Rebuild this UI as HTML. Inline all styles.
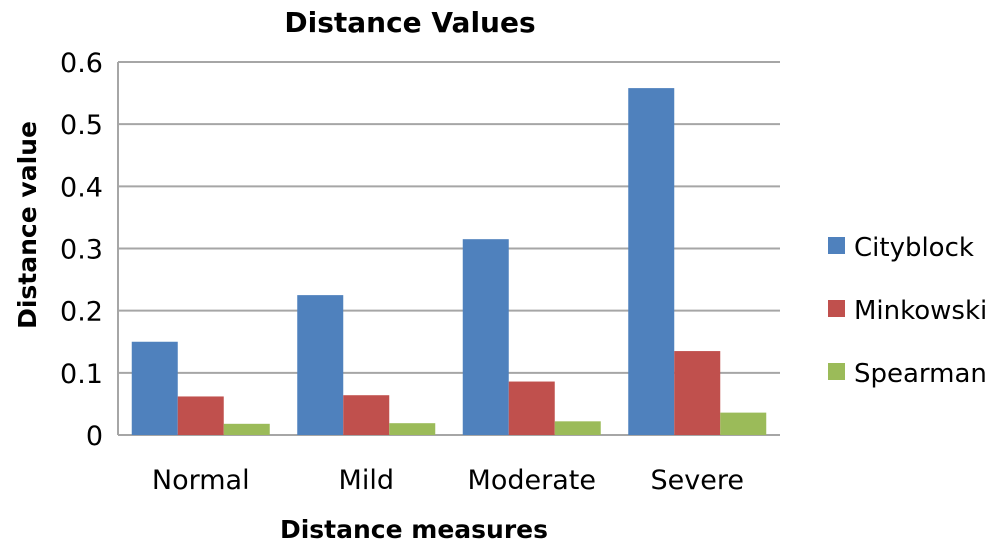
<!DOCTYPE html>
<html><head><meta charset="utf-8"><style>
body{margin:0;background:#fff;}
svg{display:block;font-family:"DejaVu Sans","Liberation Sans",sans-serif;}
</style></head><body>
<svg id="chart" width="1000" height="550"></svg>
<script>
const categories=["Normal","Mild","Moderate","Severe"];
const seriesNames=["Cityblock","Minkowski","Spearman"];
const cityblock=[0.15,0.225,0.315,0.558];
const minkowski=[0.062,0.064,0.086,0.135];
const spearman=[0.018,0.019,0.022,0.036];
const yTicks=[0,0.1,0.2,0.3,0.4,0.5,0.6];
const yTickLabels=["0","0.1","0.2","0.3","0.4","0.5","0.6"];
const colors=["#4f81bd","#c0504d","#9bbb59"];
const NS="http://www.w3.org/2000/svg";
const svg=document.getElementById('chart');
const x0=118,x1=780,y0=435,yTop=62;
const yScale=v=>y0-(v/0.6)*(y0-yTop);
const gw=(x1-x0)/categories.length;
function el(t,a,txt){const e=document.createElementNS(NS,t);for(const k in a)e.setAttribute(k,a[k]);if(txt!=null)e.textContent=txt;svg.appendChild(e);return e;}
yTicks.forEach((v,i)=>{
 const g=el('line',{x1:x0,x2:x1,y1:yScale(v),y2:yScale(v),stroke:'#a6a6a6','stroke-width':2});
 
 
 const t=el('text',{x:x0-15,y:yScale(v)+10,'text-anchor':'end','font-size':27,fill:'#000'},yTickLabels[i]);
 
 
});
const ax=el('line',{x1:x0,x2:x0,y1:yTop,y2:y0,stroke:'#a6a6a6','stroke-width':2});


const series=[cityblock,minkowski,spearman];
const bw=46,pad=(gw-3*bw)/2;
categories.forEach((c,i)=>{
 series.forEach((s,j)=>{
  const y=yScale(s[i]);
  const r=el('rect',{x:x0+i*gw+pad+j*bw,y:y,width:bw,height:y0-y,fill:colors[j]});
  
  
 });
 const t=el('text',{x:x0+i*gw+gw/2,y:489,'text-anchor':'middle','font-size':27},c);
 
 
});
seriesNames.forEach((n,j)=>{
 const y=246+j*63;
 const r=el('rect',{x:828,y:y-9,width:17,height:17,fill:colors[j]});
 
 
 const t=el('text',{x:854,y:y+10,'font-size':26},n);
 
 
});
const title=el('text',{x:410,y:32,'text-anchor':'middle','font-size':28,'font-weight':'bold'},'Distance Values');


const xt=el('text',{x:414,y:538,'text-anchor':'middle','font-size':25,'font-weight':'bold'},'Distance measures');


const yt=el('text',{x:0,y:0,'text-anchor':'middle','font-size':25,'font-weight':'bold',transform:'translate(36,225) rotate(-90)'},'Distance value');


</script>
</body></html>
